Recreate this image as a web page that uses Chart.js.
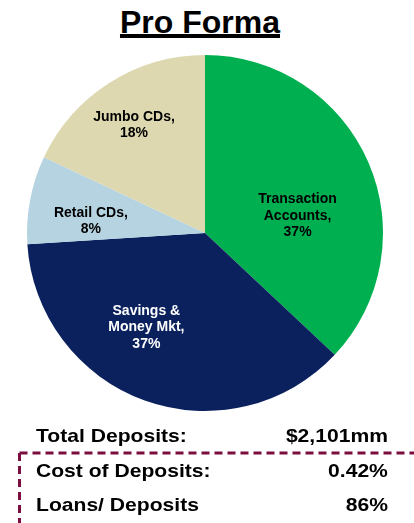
<!DOCTYPE html>
<html>
<head>
<meta charset="utf-8">
<script src="https://cdn.jsdelivr.net/npm/chart.js@4"></script>
<style>
  html, body { margin: 0; padding: 0; background: #fff; }
  #wrap { position: relative; width: 414px; height: 523px; overflow: hidden; font-family: "Liberation Sans", Arial, sans-serif; }
  #pie { position: absolute; left: 0; top: 0; }
  .title {
    position: absolute; left: 0; width: 400px; top: 6px; text-align: center;
    font-weight: bold; font-size: 32px; line-height: 1; color: #000;
    text-decoration: underline; text-decoration-thickness: 4px; text-underline-offset: 1px;
  }
  .row { position: absolute; font-weight: bold; font-size: 19px; line-height: 1; color: #000; white-space: nowrap; }
  .row.lbl { left: 36px; transform: scaleX(1.11); transform-origin: left center; }
  .row.val { right: 26px; transform: scaleX(1.11); transform-origin: right center; }
  svg.frame { position: absolute; left: 0; top: 0; }
</style>
</head>
<body>
<div id="wrap">
  <div class="title">Pro Forma</div>
  <canvas id="pie" width="414" height="523"></canvas>
  <svg class="frame" width="414" height="523">
    <path d="M19.5 453 H414" stroke="#7B0E3F" stroke-width="3" fill="none" stroke-dasharray="8 5"/>
    <path d="M19.5 453 V523" stroke="#7B0E3F" stroke-width="3" fill="none" stroke-dasharray="8 5"/>
  </svg>
  <div id="table"></div>
</div>
<script>
// Deposit mix, clockwise from 12 o'clock
const categories = ['Transaction Accounts', 'Savings & Money Mkt', 'Retail CDs', 'Jumbo CDs'];
const categoryLines = [['Transaction', 'Accounts,'], ['Savings &', 'Money Mkt,'], ['Retail CDs,'], ['Jumbo CDs,']];
const shares = [37, 37, 8, 18];

// Summary figures below the pie
const summaryLabels = ['Total Deposits:', 'Cost of Deposits:', 'Loans/ Deposits'];
const summaryValues = ['$2,101mm', '0.42%', '86%'];

const sliceColors = ['#00B050', '#0A215E', '#B5D3E0', '#DDD8B0'];
const labelColors = ['#000000', '#FFFFFF', '#000000', '#000000'];
// label anchor per slice: angle shift from the slice middle (degrees) and fraction of radius
const labelPlacement = [
  { shift: 12.3, r: 0.53 },
  { shift: 12.3, r: 0.62 },
  { shift: -4.3, r: 0.645 },
  { shift: -0.7, r: 0.73 }
];

const sliceLabels = {
  id: 'sliceLabels',
  afterDatasetsDraw(chart) {
    const ctx = chart.ctx;
    const meta = chart.getDatasetMeta(0);
    ctx.save();
    ctx.font = 'bold 14px "Liberation Sans", Arial, sans-serif';
    ctx.textAlign = 'center';
    ctx.textBaseline = 'middle';
    const lh = 16.5;
    meta.data.forEach((arc, i) => {
      const p = arc.getProps(['x', 'y', 'startAngle', 'endAngle', 'outerRadius'], true);
      const mid = (p.startAngle + p.endAngle) / 2 + labelPlacement[i].shift * Math.PI / 180;
      const rr = p.outerRadius * labelPlacement[i].r;
      const cx = p.x + Math.cos(mid) * rr;
      const cy = p.y + Math.sin(mid) * rr;
      const lines = categoryLines[i].concat([shares[i] + '%']);
      const y0 = cy - (lines.length - 1) * lh / 2;
      ctx.fillStyle = labelColors[i];
      lines.forEach((t, k) => ctx.fillText(t, cx, y0 + k * lh + 1));
    });
    ctx.restore();
  }
};

new Chart(document.getElementById('pie'), {
  type: 'pie',
  data: {
    labels: categories,
    datasets: [{
      data: shares,
      backgroundColor: sliceColors,
      borderWidth: 0,
      hoverOffset: 0
    }]
  },
  options: {
    responsive: false,
    animation: false,
    devicePixelRatio: 1,
    layout: { padding: { left: 27, right: 31, top: 55, bottom: 112 } },
    plugins: { legend: { display: false }, tooltip: { enabled: false } },
    events: []
  },
  plugins: [sliceLabels]
});

// summary rows
const rowTops = [425.6, 460.9, 494.9];
const table = document.getElementById('table');
summaryLabels.forEach((t, i) => {
  const a = document.createElement('div');
  a.className = 'row lbl';
  a.style.top = rowTops[i] + 'px';
  a.textContent = t;
  table.appendChild(a);
  const b = document.createElement('div');
  b.className = 'row val';
  b.style.top = rowTops[i] + 'px';
  b.textContent = summaryValues[i];
  table.appendChild(b);
});
</script>
</body>
</html>
